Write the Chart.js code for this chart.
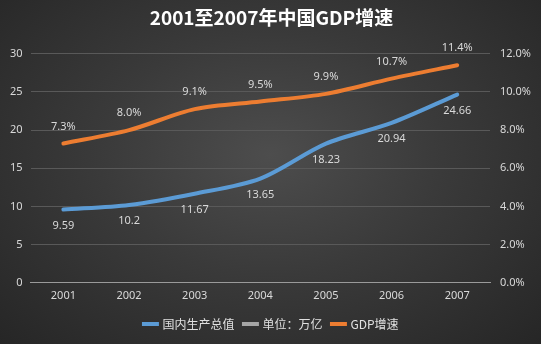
<!DOCTYPE html>
<html><head><meta charset="utf-8">
<script src="https://cdn.jsdelivr.net/npm/chart.js@4/dist/chart.umd.min.js"></script>
<style>
html,body{margin:0;padding:0;}
body{width:541px;height:344px;overflow:hidden;background:radial-gradient(ellipse at 50% 45%, #4d4d4d 0%, #3a3a3a 45%, #262626 100%);}
#c{display:block;}
</style></head><body>
<canvas id="c" width="541" height="344"></canvas>
<script>
const categories = ['2001','2002','2003','2004','2005','2006','2007'];
const gdpValues = [9.59, 10.2, 11.67, 13.65, 18.23, 20.94, 24.66];
const growthValues = [7.3, 8.0, 9.1, 9.5, 9.9, 10.7, 11.4];
const unitValues = [];
const leftTicks = [0,5,10,15,20,25,30];
const rightTicks = [0,2,4,6,8,10,12];

const labelPlugin = {
  id: 'labels',
  afterDatasetsDraw(chart) {
    const ctx = chart.ctx;
    ctx.save();
    ctx.font = '11px "Noto Sans", "DejaVu Sans", sans-serif';
    ctx.fillStyle = '#d9d9d9';
    ctx.textAlign = 'center';
    ctx.textBaseline = 'middle';
    const m0 = chart.getDatasetMeta(0);
    m0.data.forEach((p, i) => {
      ctx.fillText(String(gdpValues[i]), p.x, p.y + 16);
    });
    const m2 = chart.getDatasetMeta(2);
    m2.data.forEach((p, i) => {
      ctx.fillText(growthValues[i].toFixed(1) + '%', p.x, p.y - 17);
    });
    ctx.restore();
  }
};

new Chart(document.getElementById('c'), {
  type: 'line',
  data: {
    labels: categories,
    datasets: [
      {label: '国内生产总值', data: gdpValues, borderColor: '#5b9bd5', backgroundColor: '#5b9bd5', borderWidth: 4, pointRadius: 0, tension: 0.3, yAxisID: 'y', borderCapStyle: 'round'},
      {label: '单位：万亿', data: unitValues, borderColor: '#a5a5a5', backgroundColor: '#a5a5a5', borderWidth: 4, pointRadius: 0, yAxisID: 'y'},
      {label: 'GDP增速', data: growthValues, borderColor: '#ed7d31', backgroundColor: '#ed7d31', borderWidth: 4, pointRadius: 0, tension: 0.3, yAxisID: 'y1', borderCapStyle: 'round'}
    ]
  },
  options: {
    responsive: false,
    animation: false,
    layout: {padding: {left: 2, right: 0, top: 0, bottom: 4}},
    plugins: {
      title: {display: true, text: '2001至2007年中国GDP增速', color: '#ffffff', font: {family: '"Noto Sans CJK SC", sans-serif', size: 19, weight: 'bold'}, padding: {top: 6, bottom: 25}},
      legend: {position: 'bottom', labels: {color: '#e0e0e0', usePointStyle: true, pointStyle: 'line', boxWidth: 30, font: {family: '"Noto Sans CJK SC", sans-serif', size: 12}, padding: 10}},
      tooltip: {enabled: false}
    },
    scales: {
      x: {offset: true, grid: {display: false, drawTicks: false}, border: {color: '#9a9a9a'}, ticks: {color: '#d9d9d9', padding: 6, font: {size: 11, family: '"Noto Sans", sans-serif'}}},
      y: {min: 0, max: 30, afterBuildTicks: a => { a.ticks = leftTicks.map(v => ({value: v})); }, grid: {color: '#595959', drawTicks: false}, border: {display: false}, ticks: {color: '#d9d9d9', padding: 8, font: {size: 11, family: '"Noto Sans", sans-serif'}}},
      y1: {position: 'right', min: 0, max: 12, afterBuildTicks: a => { a.ticks = rightTicks.map(v => ({value: v})); }, grid: {display: false, drawTicks: false}, border: {display: false}, ticks: {color: '#d9d9d9', padding: 10, callback: v => v.toFixed(1) + '%', font: {size: 11, family: '"Noto Sans", sans-serif'}}}
    }
  },
  plugins: [labelPlugin]
});
</script>
</body></html>
